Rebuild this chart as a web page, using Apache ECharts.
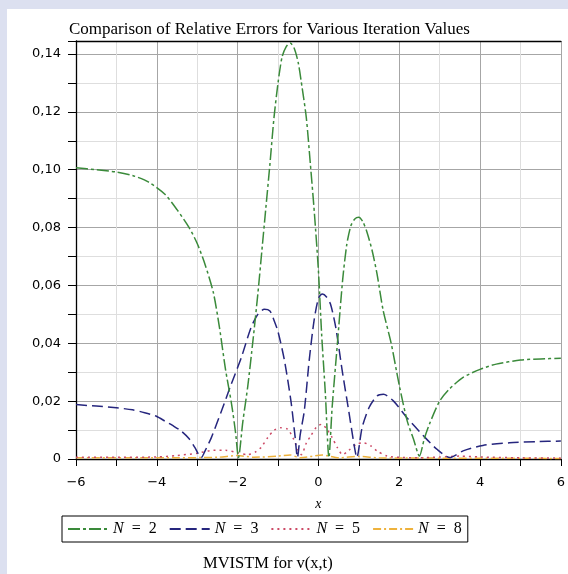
<!DOCTYPE html>
<html>
<head>
<meta charset="utf-8">
<script src="https://cdn.jsdelivr.net/npm/echarts@6/dist/echarts.min.js"></script>
<style>
html,body{margin:0;padding:0;background:#dce0f0;}
#panel{position:absolute;left:7px;top:9px;width:561px;height:565px;background:#ffffff;}
#chart{position:absolute;left:0;top:0;width:568px;height:574px;}
</style>
</head>
<body>
<div id="panel"></div>
<div id="chart"></div>
<script>
// ---- data (x, relative error) ----
const n2X = [-6,-5.5,-5,-4.6,-4.2,-3.8,-3.5,-3.2,-3,-2.8,-2.6,-2.45,-2.3,-2.15,-2.05,-1.98,-1.87,-1.75,-1.62,-1.5,-1.4,-1.3,-1.2,-1.1,-1,-0.9,-0.8,-0.7,-0.6,-0.5,-0.4,-0.3,-0.2,-0.1,0,0.08,0.17,0.26,0.34,0.47,0.6,0.7,0.8,0.9,1,1.1,1.2,1.33,1.45,1.6,1.8,2,2.2,2.35,2.5,2.62,2.76,3,3.25,3.58,4,4.4,5,5.5,6];
const n2Y = [0.1007,0.1000,0.0992,0.0980,0.0957,0.0915,0.0862,0.0800,0.0745,0.0670,0.0575,0.0455,0.0310,0.0190,0.0090,0.0005,0.0130,0.0250,0.0410,0.0570,0.0720,0.0870,0.1020,0.1180,0.1300,0.1390,0.1425,0.1438,0.1420,0.1370,0.1280,0.1180,0.1020,0.0850,0.0650,0.0430,0.0230,0.0005,0.0180,0.0400,0.0620,0.0740,0.0805,0.0830,0.0836,0.0820,0.0785,0.0720,0.0640,0.0515,0.0400,0.0255,0.0130,0.0070,0.0010,0.0070,0.0125,0.0200,0.0243,0.0282,0.0310,0.0328,0.0342,0.0346,0.0348];

const n3X = [-6,-5.5,-5,-4.6,-4.3,-4,-3.8,-3.6,-3.4,-3.2,-3.06,-2.9,-2.8,-2.65,-2.4,-2.16,-1.91,-1.67,-1.5,-1.34,-1.2,-1.1,-1,-0.84,-0.68,-0.58,-0.52,-0.45,-0.35,-0.23,-0.11,0,0.1,0.2,0.3,0.43,0.59,0.75,0.88,0.95,1.08,1.25,1.45,1.61,1.86,2.19,2.6,2.93,3.25,3.58,4.07,4.73,5.4,6];
const n3Y = [0.0188,0.0183,0.0177,0.0170,0.0160,0.0147,0.0131,0.0115,0.0097,0.0070,0.0040,0.0005,0.0030,0.0074,0.0166,0.0258,0.0350,0.0454,0.0500,0.0518,0.0512,0.0480,0.0440,0.0340,0.0200,0.0080,0.0005,0.0085,0.0166,0.0339,0.0477,0.0555,0.0570,0.0560,0.0535,0.0454,0.0304,0.0166,0.0051,0.0005,0.0108,0.0177,0.0218,0.0224,0.0200,0.0143,0.0080,0.0034,0.0005,0.0028,0.0047,0.0056,0.0060,0.0062];

const n5X = [-6,-5,-4,-3.5,-3,-2.6,-2.3,-2,-1.75,-1.55,-1.42,-1.25,-1.09,-0.93,-0.76,-0.62,-0.5,-0.42,-0.3,-0.19,-0.05,0.08,0.2,0.34,0.47,0.6,0.75,0.95,1.12,1.3,1.45,1.7,2,2.5,3,3.5,4,5,6];
const n5Y = [0.0006,0.0006,0.0007,0.0012,0.0020,0.0030,0.0030,0.0022,0.0015,0.0025,0.0040,0.0075,0.0100,0.0108,0.0103,0.0070,0.0030,0.0015,0.0055,0.0080,0.0110,0.0120,0.0105,0.0074,0.0039,0.0015,0.0030,0.0052,0.0056,0.0045,0.0028,0.0010,0.0006,0.0004,0.0007,0.0010,0.0007,0.0004,0.0003];

const n8X = [-6,-4,-2.5,-2,-1.6,-1,-0.7,-0.45,0.1,0.5,1,1.5,3,6];
const n8Y = [0.0004,0.0004,0.0006,0.0012,0.0006,0.0010,0.0014,0.0004,0.0014,0.0004,0.0009,0.0004,0.0003,0.0002];

const seriesNames = ['N = 2','N = 3','N = 5','N = 8'];
const xTickValues = [-6,-4,-2,0,2,4,6];
const yTickValues = [0,0.02,0.04,0.06,0.08,0.10,0.12,0.14];

const pairs = (xs, ys) => xs.map((x, i) => [x, ys[i]]);

const chart = echarts.init(document.getElementById('chart'), null, {renderer:'canvas'});
const serif = '"Liberation Serif", "Times New Roman", serif';
const sans = '"DejaVu Sans", Verdana, sans-serif';

function mkSeries(name, data, color, dash, z){
  return {
    name: name, type: 'line', data: data, showSymbol: false, symbol: 'none',
    smooth: 0.25, z: z,
    lineStyle: {color: color, width: 1.5, type: dash},
    itemStyle: {color: color},
    emphasis: {disabled: true}
  };
}

const option = {
  animation: false,
  backgroundColor: 'transparent',
  title: [
    {text: 'Comparison of Relative Errors for Various Iteration Values', left: 64, top: 16,
     textStyle: {fontFamily: serif, fontSize: 17, fontWeight: 'normal', color: '#000'}},
    {text: 'MVISTM for v(x,t)', left: 198, top: 550,
     textStyle: {fontFamily: serif, fontSize: 16.5, fontWeight: 'normal', color: '#000'}}
  ],
  grid: {left: 76, right: 3, top: 41, bottom: 115, containLabel: false},
  legend: {
    left: 62, top: 516, orient: 'horizontal',
    padding: [5, 6, 5, 5],
    borderColor: '#000', borderWidth: 1,
    itemWidth: 40, itemHeight: 14, itemGap: 12,
    itemStyle: {opacity: 0, borderWidth: 0},
    data: seriesNames,
    formatter: function(name){ return '{it|N}{rg|  =  ' + name.split('= ')[1] + '}'; },
    textStyle: {
      fontFamily: serif, fontSize: 16, color: '#000',
      rich: {
        it: {fontFamily: serif, fontStyle: 'italic', fontSize: 16, color: '#000'},
        rg: {fontFamily: serif, fontSize: 16, color: '#000'}
      }
    }
  },
  xAxis: [{
    type: 'value', min: -6, max: 6, interval: 2,
    name: 'x', nameLocation: 'middle', nameGap: 38,
    nameTextStyle: {fontFamily: serif, fontStyle: 'italic', fontSize: 14, color: '#000'},
    axisLine: {show: true, onZero: false, lineStyle: {color: '#000', width: 1.3}},
    axisTick: {show: true, length: 7, inside: false, lineStyle: {color: '#000'}},
    minorTick: {show: true, splitNumber: 2, length: 7, lineStyle: {color: '#000'}},
    axisLabel: {margin: 17, fontFamily: sans, fontSize: 13, color: '#000',
      formatter: v => (v < 0 ? '\u2212' + Math.abs(v) : String(v))},
    splitLine: {show: true, lineStyle: {color: '#a6a6a6', width: 1}},
    minorSplitLine: {show: true, lineStyle: {color: '#dedede', width: 1}}
  },{
    type: 'value', min: -6, max: 6, position: 'top',
    axisLine: {show: true, onZero: false, lineStyle: {color: '#000', width: 1.3}},
    axisTick: {show: false}, axisLabel: {show: false}, splitLine: {show: false}
  }],
  yAxis: {
    type: 'value', min: 0, max: 0.1445, interval: 0.02,
    axisLine: {show: true, onZero: false, lineStyle: {color: '#000', width: 1.3}},
    axisTick: {show: true, length: 8, inside: false, lineStyle: {color: '#000'}},
    minorTick: {show: true, splitNumber: 2, length: 8, lineStyle: {color: '#000'}},
    axisLabel: {margin: 15, fontFamily: sans, fontSize: 13, color: '#000', showMaxLabel: false,
      formatter: function(v){
        const hit = yTickValues.find(t => Math.abs(t - v) < 1e-9);
        if (hit === undefined) return '';
        return hit === 0 ? '0' : hit.toFixed(2).replace('.', ',');
      }},
    splitLine: {show: true, lineStyle: {color: '#a6a6a6', width: 1}},
    minorSplitLine: {show: true, lineStyle: {color: '#dedede', width: 1}}
  },
  series: [
    mkSeries(seriesNames[0], pairs(n2X, n2Y), '#3a8a3a', [12, 3, 3, 3], 5),
    mkSeries(seriesNames[1], pairs(n3X, n3Y), '#26267e', [11, 5], 4),
    mkSeries(seriesNames[2], pairs(n5X, n5Y), '#cc4a66', [2, 4], 3),
    mkSeries(seriesNames[3], pairs(n8X, n8Y), '#eeb23c', [8, 3, 2, 3], 2)
  ]
};
chart.setOption(option);
</script>
</body>
</html>
